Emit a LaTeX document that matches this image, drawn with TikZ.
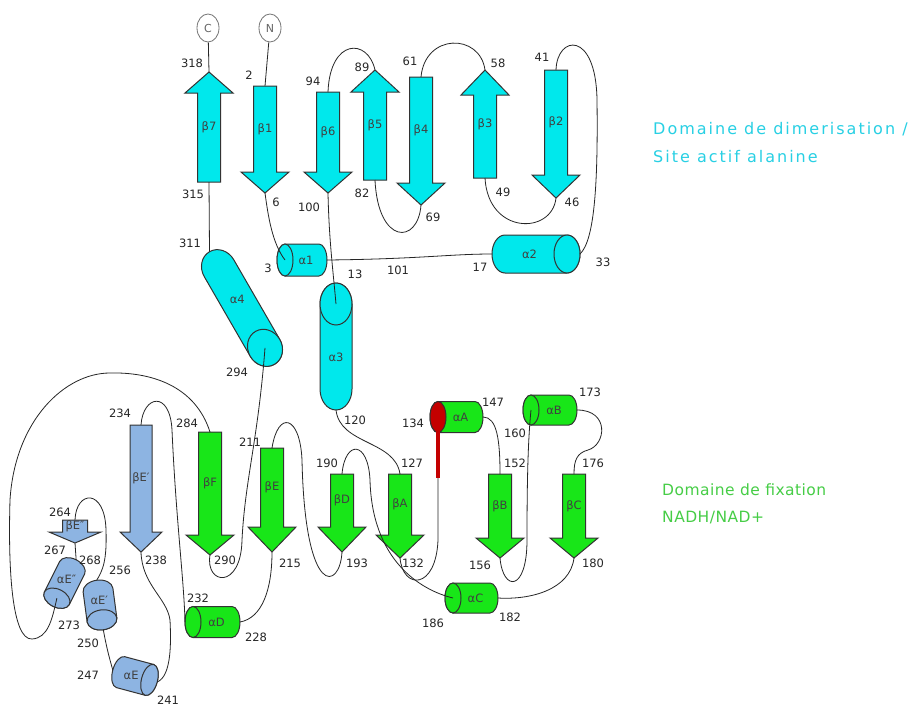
\documentclass[tikz,border=0pt]{standalone}
\usepackage{fontspec}
\setmainfont{DejaVu Sans}
\usetikzlibrary{shapes.geometric}

\definecolor{dimcyan}{RGB}{0,232,236}
\definecolor{nadgreen}{RGB}{24,230,24}
\definecolor{extblue}{RGB}{141,180,226}
\definecolor{capred}{RGB}{196,0,0}
\definecolor{domcyan}{RGB}{40,208,228}
\definecolor{domgreen}{RGB}{70,205,70}

\newcommand{\sbw}{11.5} % half width of a strand body
\newcommand{\shw}{24}   % half width of a strand head

% strand: [style]{name}{x}{tail y}{head base y}{tip y}{label}
\newcommand{\strand}[7][]{%
  \filldraw[strandline, #1] (#3-\sbw, #4) -- (#3-\sbw, #5) -- (#3-\shw, #5) -- (#3, #6)
    -- (#3+\shw, #5) -- (#3+\sbw, #5) -- (#3+\sbw, #4) -- cycle;
  \coordinate (#2-tail) at (#3, #4);
  \coordinate (#2-tip) at (#3, #6);
  \node[strandlabel] (#2) at (#3, {(min(#4,#6)+max(#4,#5))/2}) {#7};}

% helix: [style]{name}{centre}{angle of cap end}{length}{width}{cap depth}{label}
\newcommand{\helix}[8][]{%
  \begin{scope}[shift={#3}, rotate=#4]
    \filldraw[helixline, #1] (-#5/2, #6/2) arc[start angle=90, end angle=270, x radius=#7, y radius=#6/2]
      -- (#5/2, -#6/2) arc[start angle=-90, end angle=90, x radius=#7, y radius=#6/2] -- cycle;
    \filldraw[helixline, #1, capfill] (#5/2, 0) ellipse[x radius=#7, y radius=#6/2];
    \coordinate (#2-c) at (#5/2, 0);
    \coordinate (#2-e) at (#5/2+#7, 0);
    \coordinate (#2-t) at (-#5/2-#7, 0);
    \node[helixlabel] (#2) at (-#7/2, 0) {#8};
  \end{scope}}

\begin{document}
\begin{tikzpicture}[
    x=1pt, y=-1pt,                                   % pixel grid, y downwards
    conn/.style={draw=black!85, line width=0.8pt},
    strandline/.style={draw=black!80, line width=1pt},
    helixline/.style={draw=black!80, line width=1pt},
    capfill/.style={},
    topfill/.style={fill=dimcyan},
    nadfill/.style={fill=nadgreen},
    extfill/.style={fill=extblue},
    strandlabel/.style={font=\fontsize{11.5}{12}\selectfont, text=black!75, inner sep=0},
    helixlabel/.style={font=\fontsize{11.5}{12}\selectfont, text=black!75, inner sep=0},
    resnum/.style={font=\fontsize{11.5}{12}\selectfont, text=black!85, inner sep=0},
    term/.style={ellipse, draw=black!55, fill=white, line width=0.8pt, minimum width=22, minimum height=28,
      inner sep=0, font=\fontsize{11}{11}\selectfont, text=black!60},
    redstripe/.style={draw=capred, line width=4.5pt},
    domtext/.style={align=left, inner sep=0, anchor=north west}
  ]
  \useasboundingbox[fill=white] (0,0) rectangle (912,707);

  % termini
  \node[term] (cC) at (208,28) {C};
  \node[term] (cN) at (270,28) {N};

  % dimerisation domain: strands
  \strand[topfill]{b7}{209}{182}{93}{72}{β7}
  \strand[topfill]{b1}{265}{86}{172}{193}{β1}
  \strand[topfill]{b6}{328}{92}{172}{193}{β6}
  \strand[topfill]{b5}{375}{180}{92}{70}{β5}
  \strand[topfill]{b4}{421}{77}{183}{205}{β4}
  \strand[topfill]{b3}{485}{178}{95}{70}{β3}
  \strand[topfill]{b2}{556}{70}{175}{198}{β2}

  % dimerisation domain: helices
  \helix[topfill]{a1}{(302,260)}{180}{34}{32}{8}{α1}
  \helix[topfill]{a2}{(536,254)}{0}{62}{38}{13}{α2}
  \helix[topfill]{a3}{(336,346.5)}{90}{85}{32}{21}{α3}
  \helix[topfill]{a4}{(242,308)}{-60}{92}{34}{19}{α4}

  % NADH/NAD+ domain
  \strand[nadfill]{bF}{210}{432}{535}{555}{βF}
  \strand[nadfill]{bE}{272}{448}{527}{552}{βE}
  \strand[nadfill]{bD}{342}{474}{527}{552}{βD}
  \strand[nadfill]{bA}{400}{474}{535}{558}{βA}
  \strand[nadfill]{bB}{500}{474}{538}{558}{βB}
  \strand[nadfill]{bC}{574}{474}{538}{558}{βC}
  \helix[nadfill, capfill/.style={fill=capred}]{aA}{(456.5,417)}{180}{37}{31}{8}{αA}
  \helix[nadfill]{aB}{(550,410)}{180}{38}{30}{8}{αB}
  \helix[nadfill]{aC}{(471.5,598)}{180}{37}{30}{8}{αC}
  \helix[nadfill]{aD}{(212.5,622)}{180}{39}{31}{8}{αD}

  % insertion (light blue)
  {\renewcommand{\sbw}{11}\renewcommand{\shw}{21}
   \strand[extfill]{bE1}{141}{425}{532}{552}{βE′}}
  {\renewcommand{\sbw}{12.5}\renewcommand{\shw}{26}
   \strand[extfill, strandlabel/.append style={font=\fontsize{9.5}{9.5}\selectfont}]{bE2}{75}{520}{532}{543}{βE″}}
  \helix[extfill, helixlabel/.append style={font=\fontsize{10.5}{11}\selectfont}]{aE2}{(64.5,583)}{-116.6}{34}{28}{9}{αE″}
  \helix[extfill, helixlabel/.append style={font=\fontsize{10.5}{11}\selectfont}]{aE1}{(100,605)}{-82.4}{30}{30}{10}{αE′}
  \helix[extfill]{aE}{(135,676)}{-15}{30}{32}{8}{αE}

  % connectors, top
  \draw[conn] (cC) -- (b7-tip);
  \draw[conn] (cN) -- (b1-tail);
  \draw[conn] (b1-tip) .. controls (268,215) and (272,243) .. (a1-c);
  \draw[conn] (b7-tail) -- (a4-t);
  \draw[conn] (b6-tip) .. controls (329,240) and (333,270) .. (a3-c);
  \draw[conn] (a1-t) .. controls (420,259) and (450,254) .. (a2-t);
  \draw[conn] (b6-tail) .. controls (330,38) and (368,38) .. (b5-tip);
  \draw[conn] (b5-tail) .. controls (378,245) and (418,245) .. (b4-tip);
  \draw[conn] (b4-tail) .. controls (425,33) and (480,33) .. (b3-tip);
  \draw[conn] (b3-tail) .. controls (488,235) and (552,235) .. (b2-tip);
  \draw[conn] (b2-tail) .. controls (557,35) and (596,30) .. (597,100)
    .. controls (598,180) and (595,240) .. (a2-e);

  % connectors, bottom
  \draw[conn] (a3-t) .. controls (340,445) and (395,440) .. (bA-tail);
  \draw[conn] (a4-c) .. controls (258,440) and (245,480) .. (242,540)
    .. controls (241,590) and (205,585) .. (bF-tip);
  \draw[conn] (bE-tail) .. controls (278,410) and (300,415) .. (302,460)
    .. controls (305,600) and (340,590) .. (bD-tip);
  \draw[conn] (bD-tail) .. controls (345,440) and (368,440) .. (370,480)
    .. controls (372,560) and (420,590) .. (aC-c);
  \draw[conn] (bA-tip) .. controls (403,590) and (436,590) .. (438,540) -- (aA-c);
  \draw[conn] (aA-t) .. controls (497,417) and (500,440) .. (bB-tail);
  \draw[conn] (bB-tip) .. controls (503,592) and (527,592) .. (527,540)
    .. controls (527,480) and (528,440) .. (aB-c);
  \draw[conn] (aB-t) .. controls (610,410) and (606,445) .. (588,450)
    .. controls (577,453) and (574,460) .. (bC-tail);
  \draw[conn] (bC-tip) .. controls (570,590) and (530,600) .. (aC-t);
  \draw[conn] (aD-t) .. controls (262,618) and (272,590) .. (bE-tip);
  \draw[conn] (bE1-tail) .. controls (143,395) and (170,390) .. (172,430)
    .. controls (176,520) and (184,580) .. (aD-e);
  \draw[conn] (bF-tail) .. controls (195,385) and (150,372) .. (110,373)
    .. controls (65,373) and (15,420) .. (10,500)
    .. controls (8,570) and (12,640) .. (32,639)
    .. controls (48,638) and (52,620) .. (aE2-c);
  \draw[conn] (bE2-tail) .. controls (76,490) and (105,488) .. (106,530)
    .. controls (107,560) and (103,570) .. (aE1-t);
  \draw[conn] (bE2-tip) -- (aE2-t);
  \draw[conn] (aE1-e) .. controls (107,650) and (110,660) .. (aE-t);
  \draw[conn] (aE-e) .. controls (172,676) and (171,640) .. (170,620)
    .. controls (167,598) and (142,585) .. (bE1-tip);

  % red start of alpha A
  \coordinate (aA-red) at (438,478);
  \draw[redstripe] (aA-c) -- (aA-red);

  % residue numbers
  \node[resnum] (r318) at (192,63) {318};
  \node[resnum] (r2) at (249,75) {2};
  \node[resnum] (r315) at (193,194) {315};
  \node[resnum] (r6) at (276,202) {6};
  \node[resnum] (r94) at (313,81) {94};
  \node[resnum] (r100) at (309,207) {100};
  \node[resnum] (r89) at (362,67) {89};
  \node[resnum] (r82) at (362,193) {82};
  \node[resnum] (r61) at (410,61) {61};
  \node[resnum] (r69) at (433,217) {69};
  \node[resnum] (r58) at (498,63) {58};
  \node[resnum] (r49) at (503,192) {49};
  \node[resnum] (r41) at (542,57) {41};
  \node[resnum] (r46) at (572,202) {46};
  \node[resnum] (r311) at (190,243) {311};
  \node[resnum] (r3) at (268,268) {3};
  \node[resnum] (r13) at (355,274) {13};
  \node[resnum] (r101) at (398,270) {101};
  \node[resnum] (r17) at (480,267) {17};
  \node[resnum] (r33) at (603,262) {33};
  \node[resnum] (r294) at (237,372) {294};
  \node[resnum] (r120) at (355,420) {120};
  \node[resnum] (r234a) at (120,413) {234};
  \node[resnum] (r284) at (187,423) {284};
  \node[resnum] (r211) at (250,442) {211};
  \node[resnum] (r190) at (327,463) {190};
  \node[resnum] (r127) at (412,463) {127};
  \node[resnum] (r134) at (413,423) {134};
  \node[resnum] (r147) at (493,402) {147};
  \node[resnum] (r173) at (590,392) {173};
  \node[resnum] (r160) at (515,433) {160};
  \node[resnum] (r152) at (515,463) {152};
  \node[resnum] (r176) at (593,463) {176};
  \node[resnum] (r290) at (225,560) {290};
  \node[resnum] (r215) at (290,563) {215};
  \node[resnum] (r193) at (357,563) {193};
  \node[resnum] (r132) at (413,563) {132};
  \node[resnum] (r156) at (480,565) {156};
  \node[resnum] (r180) at (593,563) {180};
  \node[resnum] (r186) at (433,623) {186};
  \node[resnum] (r182) at (510,617) {182};
  \node[resnum] (r232) at (198,598) {232};
  \node[resnum] (r228) at (256,637) {228};
  \node[resnum] (r238) at (156,560) {238};
  \node[resnum] (r264) at (60,512) {264};
  \node[resnum] (r267) at (55,550) {267};
  \node[resnum] (r268) at (90,560) {268};
  \node[resnum] (r256) at (120,570) {256};
  \node[resnum] (r273) at (69,625) {273};
  \node[resnum] (r250) at (88,643) {250};
  \node[resnum] (r247) at (88,675) {247};
  \node[resnum] (r241) at (168,700) {241};

  % domain names
  \node[domtext, text=domcyan, font=\fontsize{16}{28}\selectfont\addfontfeatures{LetterSpace=12.5}]
    (dimer) at (653,122) {Domaine de dimerisation /\\Site actif alanine};
  \node[domtext, text=domgreen, font=\fontsize{15.5}{27}\selectfont\addfontfeatures{LetterSpace=3}]
    (nadh) at (662,484) {Domaine de fixation\\NADH/NAD+};
\end{tikzpicture}
\end{document}
